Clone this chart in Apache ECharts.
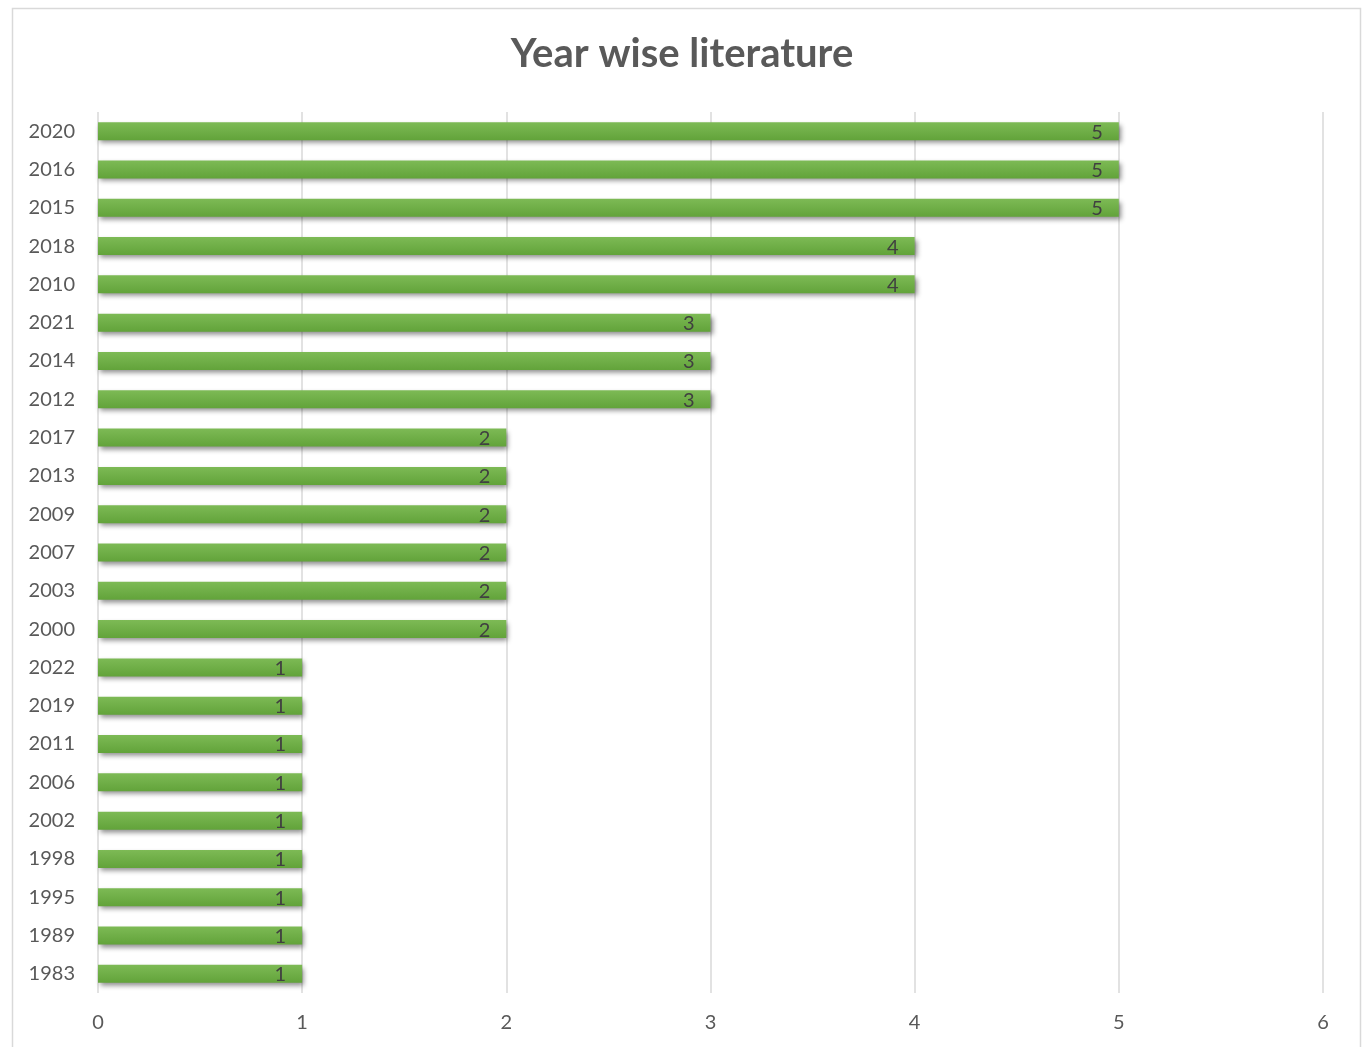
<!DOCTYPE html>
<html>
<head>
<meta charset="utf-8">
<script src="https://cdn.jsdelivr.net/npm/echarts@6/dist/echarts.min.js"></script>
<style>
html,body{margin:0;padding:0;background:#fff;}
#c{width:1364px;height:1047px;}
</style>
</head>
<body>
<div id="c"></div>
<script>
const years = ['2020','2016','2015','2018','2010','2021','2014','2012','2017','2013','2009','2007','2003','2000','2022','2019','2011','2006','2002','1998','1995','1989','1983'];
const counts = [5,5,5,4,4,3,3,3,2,2,2,2,2,2,1,1,1,1,1,1,1,1,1];
const xTicks = [0,1,2,3,4,5,6];

const chart = echarts.init(document.getElementById('c'));
chart.setOption({
  animation: false,
  backgroundColor: '#fff',
  graphic: [{
    type: 'rect', left: 10, top: 6,
    shape: {width: 1348, height: 1060},
    style: {fill: 'none', stroke: '#d9d9d9', lineWidth: 1.5}
  }],
  title: {
    text: 'Year wise literature',
    left: 'center', top: 29,
    textStyle: {fontFamily: 'Lato', fontWeight: 'bold', fontSize: 40, color: '#595959'}
  },
  grid: {left: 98, right: 41, top: 112, bottom: 54, containLabel: false},
  xAxis: {
    type: 'value', min: 0, max: 6, interval: 1,
    axisLine: {show: false}, axisTick: {show: false},
    splitLine: {show: true, lineStyle: {color: '#d9d9d9', width: 1.5}},
    axisLabel: {color: '#595959', fontSize: 20, fontFamily: 'Lato', margin: 20,
      formatter: v => String(xTicks[v] !== undefined ? xTicks[v] : v)}
  },
  yAxis: {
    type: 'category', data: years, inverse: true,
    axisLine: {show: false}, axisTick: {show: false},
    axisLabel: {color: '#595959', fontSize: 20, fontFamily: 'Lato', margin: 23}
  },
  series: [{
    type: 'bar', data: counts, barWidth: 18,
    itemStyle: {
      color: new echarts.graphic.LinearGradient(0,0,0,1,[
        {offset: 0, color: '#7dba55'},
        {offset: 1, color: '#62a33a'}
      ]),
      shadowColor: 'rgba(0,0,0,0.45)', shadowBlur: 5, shadowOffsetX: 2, shadowOffsetY: 3
    },
    label: {show: true, position: 'insideRight', offset: [0, 1], distance: 16, color: '#404040', fontSize: 20, fontFamily: 'Lato'}
  }]
});
</script>
</body>
</html>
